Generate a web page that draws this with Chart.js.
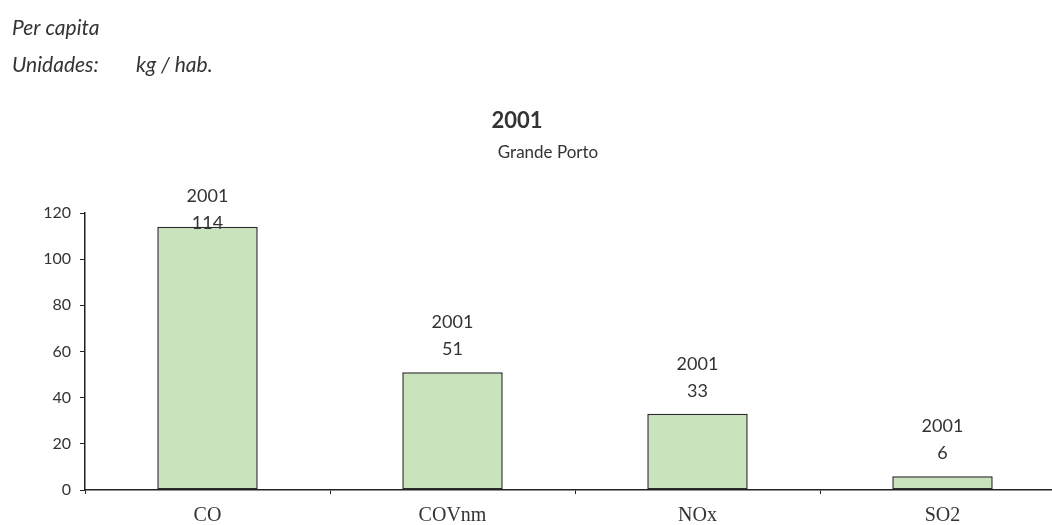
<!DOCTYPE html>
<html>
<head>
<meta charset="utf-8">
<script src="https://cdn.jsdelivr.net/npm/chart.js@4/dist/chart.umd.min.js"></script>
<style>
    html, body { margin: 0; padding: 0; background: #ffffff; overflow: hidden; }
    #wrap { position: relative; width: 1080px; height: 525px; }
</style>
</head>
<body>
<div id="wrap"><canvas id="emissoes"></canvas></div>
<script>
// kg por habitante, Grande Porto
var categorias = ["CO", "COVnm", "NOx", "SO2"];
var valores = [114, 51, 33, 6];
var ano = "2001";
var yTicks = [0, 20, 40, 60, 80, 100, 120];

var corTexto = "#333333";
var corEixo = "#222222";

// cabecalho, titulo e etiquetas das barras
var textos = {
    id: "textos",
    afterDraw: function (chart) {
        var ctx = chart.ctx;
        ctx.save();
        ctx.fillStyle = corTexto;
        ctx.textBaseline = "alphabetic";
        ctx.textAlign = "left";
        ctx.font = "italic 21px Lato";
        ctx.fillText("Per capita", 12, 35);
        ctx.fillText("Unidades:", 12, 72);
        ctx.fillText("kg / hab.", 136, 72);

        ctx.textAlign = "center";
        ctx.font = "bold 22px Lato";
        ctx.fillText(ano, 517, 128);
        ctx.font = "17px Lato";
        ctx.fillText("Grande Porto", 548, 158);

        var meta = chart.getDatasetMeta(0);
        var topo = chart.chartArea.top;
        ctx.font = "18px Lato";
        ctx.textBaseline = "middle";
        for (var i = 0; i < meta.data.length; i += 1) {
            var bar = meta.data[i];
            var yAno = Math.max(bar.y - 50, topo - 17);
            ctx.fillText(ano, bar.x, yAno);
            ctx.fillText(String(valores[i]), bar.x, yAno + 27);
        }
        ctx.restore();
    }
};

var ctx = document.getElementById("emissoes");
var grafico = new Chart(ctx, {
    type: "bar",
    data: {
        labels: categorias,
        datasets: [
            {
                label: ano,
                data: valores,
                backgroundColor: "#c9e3bd",
                borderColor: "#2b2b2b",
                borderWidth: 1.5,
                borderSkipped: false,
                categoryPercentage: 1,
                barPercentage: 0.41
            }
        ]
    },
    options: {
        responsive: true,
        maintainAspectRatio: false,
        animation: false,
        layout: { padding: { top: 213, left: 0, right: 15, bottom: 0 } },
        plugins: {
            legend: { display: false },
            tooltip: { enabled: false }
        },
        scales: {
            x: {
                afterFit: function (scale) { scale.height = 35; },
                grid: {
                    offset: true,
                    drawOnChartArea: false,
                    drawTicks: true,
                    tickLength: 4,
                    tickColor: corEixo
                },
                border: { display: true, color: corEixo, width: 1.5 },
                ticks: {
                    color: corTexto,
                    padding: 10,
                    font: { family: "Liberation Serif", size: 20 }
                }
            },
            y: {
                min: 0,
                max: 120,
                afterFit: function (scale) { scale.width = 85; },
                afterBuildTicks: function (scale) {
                    scale.ticks = yTicks.map(function (v) { return { value: v }; });
                },
                grid: {
                    drawOnChartArea: false,
                    drawTicks: true,
                    tickLength: 5,
                    tickColor: corEixo
                },
                border: { display: true, color: corEixo, width: 1.5 },
                ticks: {
                    color: corTexto,
                    padding: 9,
                    font: { family: "Lato", size: 16 }
                }
            }
        }
    },
    plugins: [textos]
});
</script>
</body>
</html>
